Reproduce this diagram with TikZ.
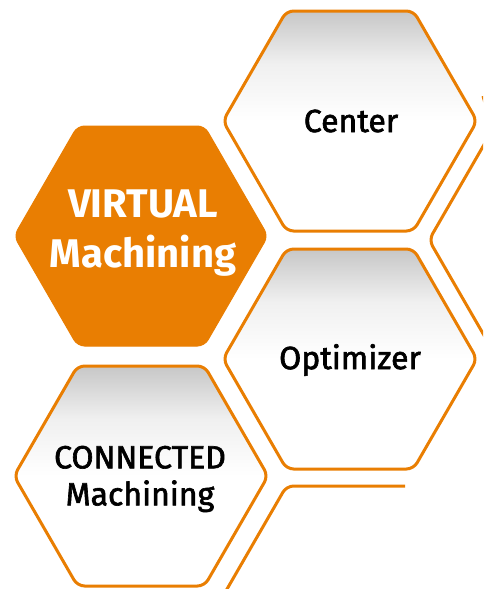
\documentclass[tikz,border=0pt]{standalone}
\usepackage{fontspec}
\setmainfont{Fira Sans}
\newfontfamily\medfont{Fira Sans}[FakeBold=2]
\definecolor{hexorange}{RGB}{233,126,2}
\pgfdeclareverticalshading{hexshade}{100bp}{color(0bp)=(white); color(25bp)=(white); color(50bp)=(white); color(63bp)=(black!6); color(75bp)=(black!22); color(100bp)=(black!22)}
\tikzset{
  hexwhite/.style={draw=hexorange, line width=3pt, rounded corners=7pt, shading=hexshade},
  hexfull/.style={fill=hexorange, draw=hexorange, line width=1pt, rounded corners=7pt},
  hexline/.style={draw=hexorange, line width=3pt, rounded corners=7pt},
  darklabel/.style={text=black, font=\medfont\fontsize{32}{37}\selectfont, align=center},
  lightlabel/.style={text=white, font=\bfseries\fontsize{40}{50}\selectfont, align=center}
}
\newcommand\hexpath[2]{(#1-127,#2) -- (#1-63.5,#2-110) -- (#1+63.5,#2-110) -- (#1+127,#2) -- (#1+63.5,#2+110) -- (#1-63.5,#2+110) -- cycle}
\begin{document}
\begin{tikzpicture}[x=1pt,y=-1pt]
\useasboundingbox (0,0) rectangle (483,589);
\clip (0,0) rectangle (483,589);
% partial hexagons
\draw[hexline] (483,96) -- (492.5,130) -- (429,240) -- (492.5,350);
\draw[hexline] (405,486) -- (286.5,486) -- (223,596) -- (286.5,706);
% full hexagons
\path[hexwhite] \hexpath{350}{121};
\path[hexwhite] \hexpath{350}{359};
\path[hexwhite] \hexpath{141}{476};
\path[hexfull] \hexpath{141}{236};
% labels
\node[darklabel] (center) at (351,121) {Center};
\node[darklabel] (optimizer) at (350,360) {Optimizer};
\node[lightlabel] (virtual) at (143,233) {VIRTUAL\\Machining};
\node[darklabel, font=\medfont\fontsize{32}{37}\selectfont] (connected) at (140,479) {CONNECTED\\Machining};
\end{tikzpicture}
\end{document}
